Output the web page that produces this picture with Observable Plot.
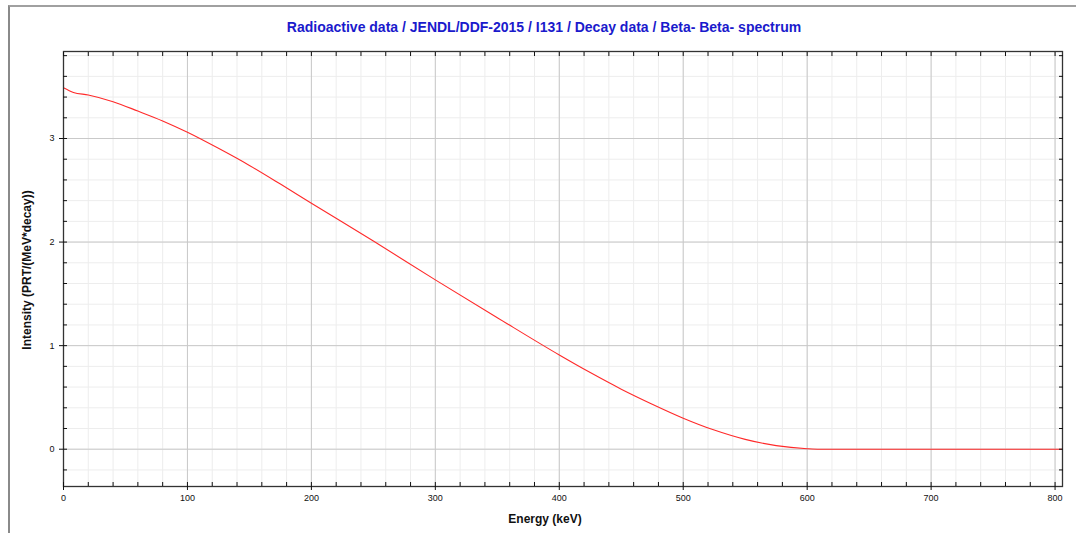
<!DOCTYPE html>
<html><head><meta charset="utf-8">
<script src="https://cdn.jsdelivr.net/npm/d3@7"></script>
<script src="https://cdn.jsdelivr.net/npm/@observablehq/plot@0.6"></script>
<style>
body{margin:0;background:#fff;}
#wrap{position:relative;width:1076px;height:533px;overflow:hidden;font-family:"Liberation Sans",Arial,sans-serif;}
#border{position:absolute;left:8px;top:5px;width:1100px;height:600px;border-left:2px solid #8a8a8a;border-top:2px solid #a0a0a0;}
#title{position:absolute;left:0;top:19px;width:1088px;text-align:center;font-weight:bold;font-size:14px;color:#1a1acc;white-space:nowrap;}
#xlabel{position:absolute;left:0;top:512px;width:1090px;text-align:center;font-weight:bold;font-size:12px;color:#111;}
#ylabel{position:absolute;left:27px;top:270px;transform:translate(-50%,-50%) rotate(-90deg);font-weight:bold;font-size:12px;color:#111;white-space:nowrap;}
#chart{position:absolute;left:0;top:0;}
</style>
</head><body>
<div id="wrap">
  <div id="border"></div>
  <div id="chart"></div>
  <div id="title">Radioactive data / JENDL/DDF-2015 / I131 / Decay data / Beta- Beta- spectrum</div>
  <div id="xlabel">Energy (keV)</div>
  <div id="ylabel">Intensity (PRT/(MeV*decay))</div>
</div>
<script>
const energy = [0, 8, 20, 40, 60, 80, 100, 125, 150, 175, 200, 250, 300, 350, 400, 425, 450, 475, 500, 525, 550, 575, 600, 610, 700, 806];
const intensity = [3.49, 3.445, 3.42, 3.355, 3.265, 3.17, 3.06, 2.905, 2.74, 2.56, 2.375, 2.01, 1.635, 1.27, 0.91, 0.74, 0.58, 0.435, 0.30, 0.185, 0.095, 0.035, 0.005, 0, 0, 0];
const xMajor = [0, 100, 200, 300, 400, 500, 600, 700, 800];
const xMinor = [0, 20, 40, 60, 80, 100, 120, 140, 160, 180, 200, 220, 240, 260, 280, 300, 320, 340, 360, 380, 400, 420, 440, 460, 480, 500, 520, 540, 560, 580, 600, 620, 640, 660, 680, 700, 720, 740, 760, 780, 800];
const yMajor = [0, 1, 2, 3];
const yMinor = [-0.2, 0, 0.2, 0.4, 0.6, 0.8, 1, 1.2, 1.4, 1.6, 1.8, 2, 2.2, 2.4, 2.6, 2.8, 3, 3.2, 3.4, 3.6, 3.8];

const data = energy.map((e, i) => ({e, v: intensity[i]}));

const plot = Plot.plot({
  width: 1076, height: 533,
  marginLeft: 63, marginRight: 14, marginTop: 51, marginBottom: 47,
  style: {fontFamily: "'Liberation Sans', Arial, sans-serif", fontSize: "9px", color: "#111", background: "transparent"},
  x: {domain: [0, 806]},
  y: {domain: [-0.36, 3.84]},
  marks: [
    Plot.gridX(xMinor, {stroke: "#ededed", strokeOpacity: 1}),
    Plot.gridY(yMinor, {stroke: "#ededed", strokeOpacity: 1}),
    Plot.gridX(xMajor, {stroke: "#c9c9c9", strokeOpacity: 1}),
    Plot.gridY(yMajor, {stroke: "#c9c9c9", strokeOpacity: 1}),
    Plot.line(data, {x: "e", y: "v", stroke: "#ff2a2a", strokeWidth: 1.1, curve: "monotone-x"}),
    Plot.frame({stroke: "#333", strokeWidth: 1.3}),
    Plot.axisX(xMajor, {anchor: "bottom", tickSize: 4, tickPadding: 4, label: null, tickFormat: d => String(d)}),
    Plot.axisX(xMinor, {anchor: "bottom", tickSize: -4, label: null, tickFormat: () => ""}),
    Plot.axisX(xMinor, {anchor: "top", tickSize: -4, label: null, tickFormat: () => ""}),
    Plot.axisY(yMajor, {anchor: "left", tickSize: 4, tickPadding: 5, label: null, tickFormat: d => String(d)}),
    Plot.axisY(yMinor, {anchor: "left", tickSize: -4, label: null, tickFormat: () => ""}),
    Plot.axisY(yMinor, {anchor: "right", tickSize: -4, label: null, tickFormat: () => ""})
  ]
});
document.getElementById("chart").appendChild(plot);
</script>
</body></html>
